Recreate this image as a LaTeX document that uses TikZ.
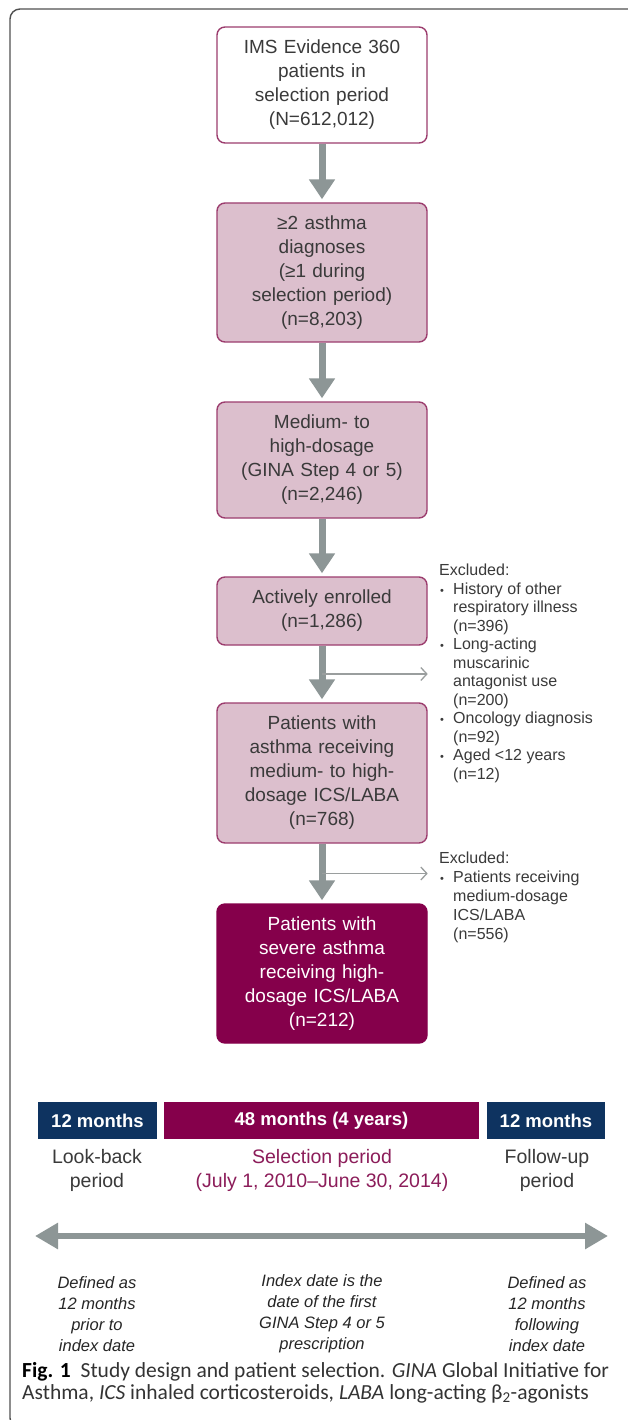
\documentclass[tikz,border=0pt]{standalone}
\usepackage{fontspec}
\setmainfont{Liberation Sans}
\newfontfamily\capfont{Carlito}
\usetikzlibrary{arrows.meta,calc}
\definecolor{boxborder}{HTML}{9C3D6E}
\definecolor{boxfill}{HTML}{DCBFCD}
\definecolor{darkmaroon}{HTML}{85004B}
\definecolor{navyblue}{HTML}{0E3360}
\definecolor{arrowgray}{HTML}{8D9696}
\definecolor{thingray}{HTML}{9A9E9E}
\definecolor{txtgray}{HTML}{3A3A3A}
\definecolor{framegray}{HTML}{505050}
\definecolor{selmaroon}{HTML}{8C1D5A}
\newcommand\exbul{\makebox[14pt][l]{\hspace{1pt}{\fontsize{11}{11}\selectfont\textbullet}}}
\newcommand\exind{\hspace*{14pt}}
\begin{document}
\begin{tikzpicture}[x=1pt,y=-1pt,
  flowbox/.style={draw=boxborder, line width=1.4pt, rounded corners=8pt, minimum width=210pt, text width=204pt, align=center, inner sep=0pt, font=\fontsize{19}{24}\selectfont, text=txtgray},
  pinkbox/.style={flowbox, fill=boxfill},
  bigarrow/.style={draw=arrowgray, line width=7pt, -{Triangle[width=25pt,length=20pt]}, shorten >=3pt},
  thinarrow/.style={draw=thingray, line width=1.3pt, -{Straight Barb[length=6pt,width=13pt,line width=1.3pt]}},
  excl/.style={align=left, inner sep=0pt, text=txtgray},
  tlbox/.style={minimum height=37pt, inner sep=0pt, text=white, font=\bfseries\fontsize{18.5}{22}\selectfont},
  tllabel/.style={align=center, inner sep=0pt, font=\fontsize{19.5}{24}\selectfont, text=txtgray},
  itnote/.style={align=center, inner sep=0pt, font=\itshape\fontsize{16.5}{21}\selectfont, text=black!85},
  capline/.style={anchor=base west, inner sep=0pt, font=\capfont\fontsize{21.5}{22}\selectfont, text=black!80}
]
\useasboundingbox (0,0) rectangle (627,1420);
\fill[white] (0,0) rectangle (627,1420);
% frame
\draw[framegray, line width=1.4pt, rounded corners=10pt] (700,1428) -- (10,1428) -- (10,9) -- (700,9);

% flow boxes
\node[flowbox, fill=white, minimum height=116pt] (b1) at (322,85) {IMS Evidence 360\\patients in\\selection period\\(N=612,012)};
\node[pinkbox, minimum height=139pt] (b2) at (322,272.5) {≥2 asthma\\diagnoses\\(≥1 during\\selection period)\\(n=8,203)};
\node[pinkbox, minimum height=116pt] (b3) at (322,460) {Medium- to\\high-dosage\\(GINA Step 4 or 5)\\(n=2,246)};
\node[pinkbox, minimum height=68pt] (b4) at (322,611) {Actively enrolled\\(n=1,286)};
\node[pinkbox, minimum height=140pt] (b5) at (322,773) {Patients with\\asthma receiving\\medium- to high-\\dosage ICS/LABA\\(n=768)};
\node[flowbox, fill=darkmaroon, draw=darkmaroon, text=white, minimum height=139pt] (b6) at (322,973.5) {Patients with\\severe asthma\\receiving high-\\dosage ICS/LABA\\(n=212)};

% main arrows
\draw[bigarrow] (b1.south) -- (b2.north);
\draw[bigarrow] (b2.south) -- (b3.north);
\draw[bigarrow] (b3.south) -- (b4.north);
\draw[bigarrow] (b4.south) -- (b5.north);
\draw[bigarrow] (b5.south) -- (b6.north);

% exclusion arrows
\coordinate (m1) at ($(b4.south)!0.5!(b5.north)$);
\coordinate (m2) at ($(b5.south)!0.5!(b6.north)$);
\coordinate (m1e) at (m1 -| b4.east);
\coordinate (m2e) at (m2 -| b5.east);
\draw[thinarrow] (m1) -- (m1e);
\draw[thinarrow] (m2) -- (m2e);

% exclusion texts
\node[excl, anchor=north west, font=\fontsize{16}{18.5}\selectfont] (ex1) at (439,564) {Excluded:\\
\exbul History of other\\ \exind respiratory illness\\ \exind (n=396)\\
\exbul Long-acting\\ \exind muscarinic\\ \exind antagonist use\\ \exind (n=200)\\
\exbul Oncology diagnosis\\ \exind (n=92)\\
\exbul Aged <12 years\\ \exind (n=12)};
\node[excl, anchor=north west, font=\fontsize{16}{19}\selectfont] (ex2) at (439,852) {Excluded:\\
\exbul Patients receiving\\ \exind medium-dosage\\ \exind ICS/LABA\\ \exind (n=556)};

% timeline
\node[tlbox, fill=navyblue, minimum width=119pt] (t1) at (97.5,1120.5) {12 months};
\node[tlbox, fill=darkmaroon, minimum width=315pt] (t2) at (321.5,1120.5) {48 months (4 years)};
\node[tlbox, fill=navyblue, minimum width=118pt] (t3) at (546,1120.5) {12 months};
\node[tllabel] (l1) at (97,1170) {Look-back\\period};
\node[tllabel, text=selmaroon] (l2) at (322,1170) {Selection period\\(July 1, 2010–June 30, 2014)};
\node[tllabel] (l3) at (547,1170) {Follow-up\\period};

\coordinate (al) at (35,1236);
\coordinate (ar) at (608,1236);
\draw[draw=arrowgray, line width=6.5pt, {Triangle[width=25pt,length=23pt]}-{Triangle[width=25pt,length=23pt]}] (al) -- (ar);

\node[itnote] (n1) at (97,1314) {Defined as\\12 months\\prior to\\index date};
\node[itnote] (n2) at (322,1314) {Index date is the\\date of the first\\GINA Step 4 or 5\\prescription};
\node[itnote] (n3) at (547,1314) {Defined as\\12 months\\following\\index date};

% caption
\node[capline] (c1) at (22,1377) {\textbf{\color{black}Fig. 1}\hspace{10pt}Study design and patient selection. \textit{GINA} Global Initiative for};
\node[capline] (c2) at (22,1399) {Asthma, \textit{ICS} inhaled corticosteroids, \textit{LABA} long-acting β\textsubscript{2}-agonists};
\end{tikzpicture}
\end{document}
